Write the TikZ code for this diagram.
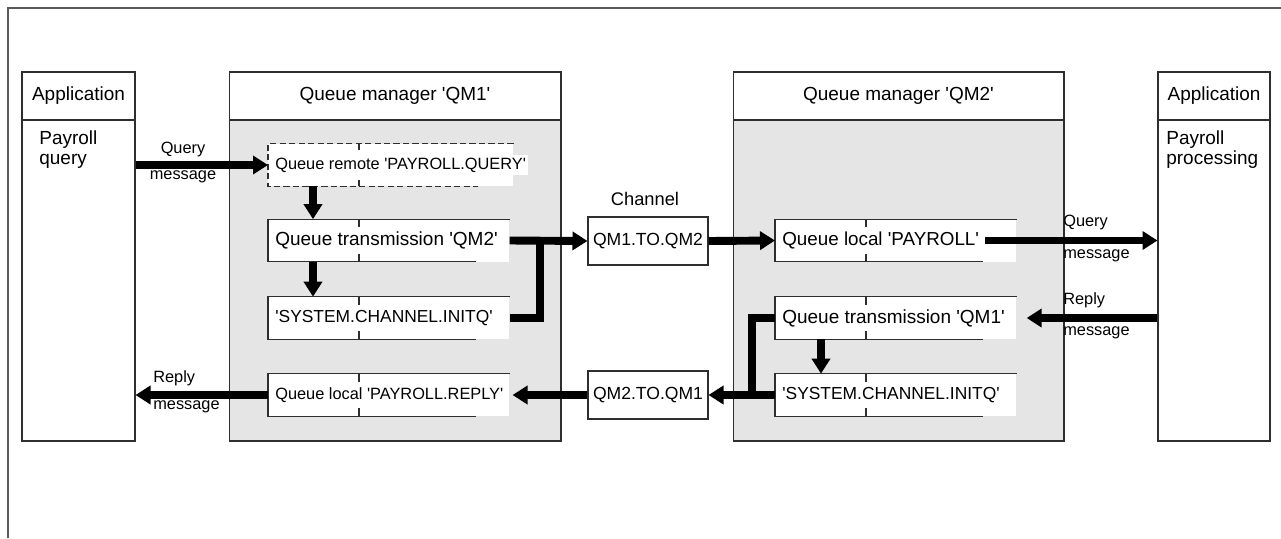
\documentclass[tikz,border=0pt]{standalone}
\usepackage{fontspec}
\setmainfont{Liberation Sans}[Ligatures=TeXOff]
\usetikzlibrary{arrows.meta}
\definecolor{mqInk}{HTML}{2E2E2E}
\definecolor{mqFrame}{HTML}{5A5A5A}
\definecolor{mqShade}{HTML}{E5E5E5}
\tikzset{
  mq frame/.style={draw=mqFrame, line width=0.8pt},
  mq box/.style={draw=mqInk, line width=0.6pt, inner sep=0pt},
  mq edge/.style={draw=mqInk, line width=0.6pt},
  mq dashed/.style={dash pattern=on 3.6pt off 1.8pt},
  mq queue/.style={fill=white, inner sep=0pt, minimum height=0.84cm, anchor=west},
  mq text/.style={font=\fontsize{10.8}{12}\selectfont, text=black, inner sep=0pt},
  mq label/.style={fill=white, inner xsep=0.04cm, inner ysep=0.05cm, text=black},
  mq small/.style={font=\fontsize{9.3}{11}\selectfont, text=black, inner sep=0pt},
  mq pipe/.style={draw=black, line width=4.5pt, line join=miter},
  mq flow/.style={mq pipe, -{Triangle[length=0.3cm, width=0.36cm]}},
}

\begin{document}
\begin{tikzpicture}[x=0.02cm, y=-0.02cm]
  \useasboundingbox (0,0) rectangle (1281,538);
  % outer frame, top and left edge only
  \coordinate (frame-bl) at (8,538);
  \coordinate (frame-tr) at (1281,8);
  \draw[mq frame] (frame-bl) |- (frame-tr);

  % applications and queue managers: header + body
  \foreach \p/\x/\w/\f/\h in {appL/78.5/2.26/white/Application,
      qm1/395/6.64/mqShade/Queue manager 'QM1',
      qm2/898.5/6.62/mqShade/Queue manager 'QM2',
      appR/1214/2.24/white/Application} {
    \node[mq box, mq text, minimum width=\w cm, minimum height=0.96cm] (\p-h) at (\x,96) {\h};
    \node[mq box, fill=\f, minimum width=\w cm, minimum height=6.42cm] (\p) at (\x,280.5) {};
  }
  \node[mq text, anchor=west, align=left, font=\fontsize{10.8}{11.4}\selectfont] (payq) at (39,150) {Payroll\\query};
  \node[mq text, anchor=west, align=left, font=\fontsize{10.8}{11.4}\selectfont] (payp) at (1166,150) {Payroll\\processing};

  % queues
  \foreach \b/\x/\y/\w/\s/\t in {rq/268/165/4.90/9.3/Queue remote 'PAYROLL.QUERY',
      xq1/268/240.5/4.82/10.8/Queue transmission 'QM2',
      iq1/268/318/4.82/9.9/'SYSTEM.CHANNEL.INITQ',
      lr1/268/395/4.82/9.3/Queue local 'PAYROLL.REPLY',
      lq2/775/240.5/4.82/10.7/Queue local 'PAYROLL',
      xq2/775/318/4.82/10.8/Queue transmission 'QM1',
      iq2/775/395/4.82/9.9/'SYSTEM.CHANNEL.INITQ'} {
    \node[mq queue, minimum width=\w cm] (\b) at (\x,\y) {};
    \node[mq label, anchor=west, font=\fontsize{\s}{12}\selectfont] (\b-t) at ([xshift=0.1cm]\b.west) {\t};
  }
  \foreach \b in {xq1,iq1,lr1,lq2,xq2,iq2} {
    \draw[mq edge] (\b.north east) -- (\b.north west) -- (\b.south west) -- ++(208,0);
    \draw[mq edge] ([xshift=1.82cm]\b.north west) -- ++(0,8)
                   ([xshift=1.82cm]\b.south west) -- ++(0,-8);
  }
  \draw[mq edge, mq dashed] (rq.north east) -- (rq.north west) -- (rq.south west) -- ++(210,0);
  \draw[mq edge, mq dashed] ([xshift=1.82cm]rq.north west) -- ++(0,8)
                            ([xshift=1.82cm]rq.south west) -- ++(0,-8);

  % channels
  \node[mq text, anchor=center, font=\fontsize{10.4}{12}\selectfont] (chan) at (645,199) {Channel};
  \node[mq box, mq text, font=\fontsize{10}{12}\selectfont, fill=white, minimum width=2.4cm, minimum height=0.96cm] (ch1) at (648,241) {QM1.TO.QM2};
  \node[mq box, mq text, font=\fontsize{10}{12}\selectfont, fill=white, minimum width=2.4cm, minimum height=0.96cm] (ch2) at (648,395) {QM2.TO.QM1};

  % message labels
  \node[mq small] (qry-in) at (183,149) {Query};
  \node[mq small] (msg-in) at (183,177) {message};
  \node[mq small, anchor=west] (qry-out) at (1063,222) {Query};
  \node[mq small, anchor=west] (msg-out) at (1063,256) {message};
  \node[mq small, anchor=west] (rep-in) at (1063,300) {Reply};
  \node[mq small, anchor=west] (msg-rin) at (1063,333) {message};
  \node[mq small, anchor=west] (rep-out) at (153,378) {Reply};
  \node[mq small, anchor=west] (msg-rout) at (153,407) {message};

  % message flow, QM1 -> QM2
  \coordinate (j1) at (540,240.5);
  \coordinate (j2) at (752,395);
  \draw[mq flow] (appL.east |- rq.west) -- (rq.west);
  \draw[mq flow] ([xshift=0.9cm]rq.south west) -- ([xshift=0.9cm]xq1.north west);
  \draw[mq flow] ([xshift=0.9cm]xq1.south west) -- ([xshift=0.9cm]iq1.north west);
  \draw[mq flow] (xq1.east) -- (ch1.west);
  \draw[mq pipe] (iq1.east) -| (j1);
  \draw[mq flow] (ch1.east) -- (lq2.west);
  \draw[mq flow] ([xshift=0.08cm]lq2-t.east) -- (appR.west |- lq2-t.east);

  % reply flow, QM2 -> QM1
  \draw[mq flow] (appR.west |- xq2.east) -- ([xshift=0.2cm]xq2.east);
  \draw[mq flow] ([xshift=0.92cm]xq2.south west) -- ([xshift=0.92cm]iq2.north west);
  \draw[mq pipe] (xq2.west) -| (j2);
  \draw[mq flow] (iq2.west) -- (ch2.east);
  \draw[mq flow] (ch2.west) -- ([xshift=0.14cm]lr1-t.east);
  \draw[mq flow] (lr1.west) -- (appL.east |- lr1.west);
\end{tikzpicture}
\end{document}
